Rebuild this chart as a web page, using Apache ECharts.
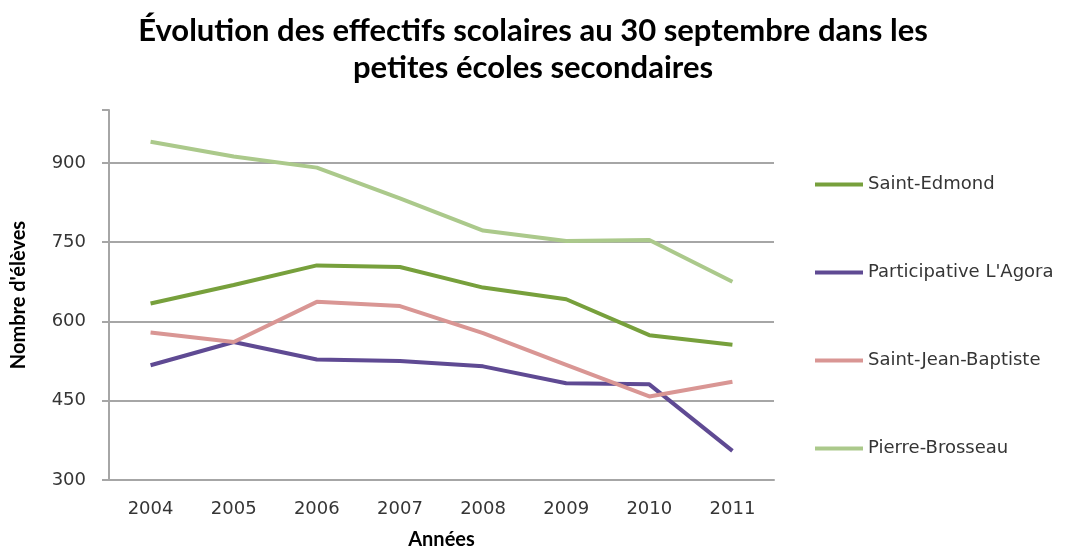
<!DOCTYPE html>
<html>
<head>
<meta charset="utf-8">
<script src="https://cdn.jsdelivr.net/npm/echarts@6/dist/echarts.min.js"></script>
<style>
  html, body { margin: 0; padding: 0; background: #fff; }
  #chart { width: 1067px; height: 555px; }
</style>
</head>
<body>
<div id="chart"></div>
<script>
// données
const years = ["2004", "2005", "2006", "2007", "2008", "2009", "2010", "2011"]
const saintEdmond = [634, 669, 706, 703, 664, 642, 574, 556]
const agora = [517, 561, 528, 525, 515, 483, 481, 355]
const saintJeanBaptiste = [579, 561, 637, 629, 578, 518, 458, 486]
const pierreBrosseau = [940, 912, 891, 833, 772, 752, 754, 675]
const yTicks = [300, 450, 600, 750, 900]

const chart = echarts.init(document.getElementById("chart"))

const labelFont = "DejaVu Sans, Verdana, sans-serif"
const titleFont = "Lato, Calibri, sans-serif"
const gridColor = "#a6a6a6"
const textColor = "#353535"

function lineSeries(name, data, color) {
  return {
    name: name,
    type: "line",
    data: data,
    symbol: "none",
    lineStyle: { color: color, width: 4 },
    itemStyle: { color: color }
  }
}

const option = {
  backgroundColor: "#fff",
  animation: false,
  title: {
    text: "Évolution des effectifs scolaires au 30 septembre dans les\npetites écoles secondaires",
    left: 528,
    top: 7,
    textAlign: "center",
    textStyle: {
      fontFamily: titleFont,
      fontWeight: "bold",
      fontSize: 31,
      lineHeight: 37,
      color: "#000"
    }
  },
  grid: { left: 109, right: 293, top: 110, bottom: 72 },
  legend: {
    orient: "vertical",
    left: 810,
    top: 169,
    icon: "rect",
    itemWidth: 48,
    itemHeight: 4,
    itemGap: 67,
    textStyle: { fontFamily: labelFont, fontSize: 18, color: textColor, lineHeight: 21 },
    data: ["Saint-Edmond", "Participative L'Agora", "Saint-Jean-Baptiste", "Pierre-Brosseau"]
  },
  xAxis: {
    type: "category",
    data: years,
    boundaryGap: true,
    name: "Années",
    nameLocation: "middle",
    nameGap: 50,
    nameTextStyle: { fontFamily: titleFont, fontWeight: "bold", fontSize: 20, color: "#000" },
    axisLine: { lineStyle: { color: gridColor, width: 2 } },
    axisTick: { show: false },
    axisLabel: { margin: 20, fontFamily: labelFont, fontSize: 18, color: textColor }
  },
  yAxis: {
    type: "value",
    min: 300,
    max: 1000,
    interval: 150,
    name: "Nombre d'élèves",
    nameLocation: "middle",
    nameGap: 80,
    nameTextStyle: { fontFamily: titleFont, fontWeight: "bold", fontSize: 20, color: "#000" },
    axisLine: { show: true, lineStyle: { color: gridColor, width: 2 } },
    axisTick: { show: true, inside: false, length: 7, lineStyle: { color: gridColor, width: 2 } },
    axisLabel: {
      margin: 23,
      fontFamily: labelFont,
      fontSize: 18,
      color: textColor,
      formatter: function (v) { return yTicks.indexOf(v) >= 0 ? String(v) : "" }
    },
    splitLine: {
      lineStyle: {
        color: [gridColor, gridColor, gridColor, gridColor, gridColor, "rgba(0,0,0,0)"],
        width: 2
      }
    }
  },
  series: [
    lineSeries("Saint-Edmond", saintEdmond, "#77a03c"),
    lineSeries("Participative L'Agora", agora, "#5f4a93"),
    lineSeries("Saint-Jean-Baptiste", saintJeanBaptiste, "#d99694"),
    lineSeries("Pierre-Brosseau", pierreBrosseau, "#abc98b")
  ]
}

chart.setOption(option)
</script>
</body>
</html>
